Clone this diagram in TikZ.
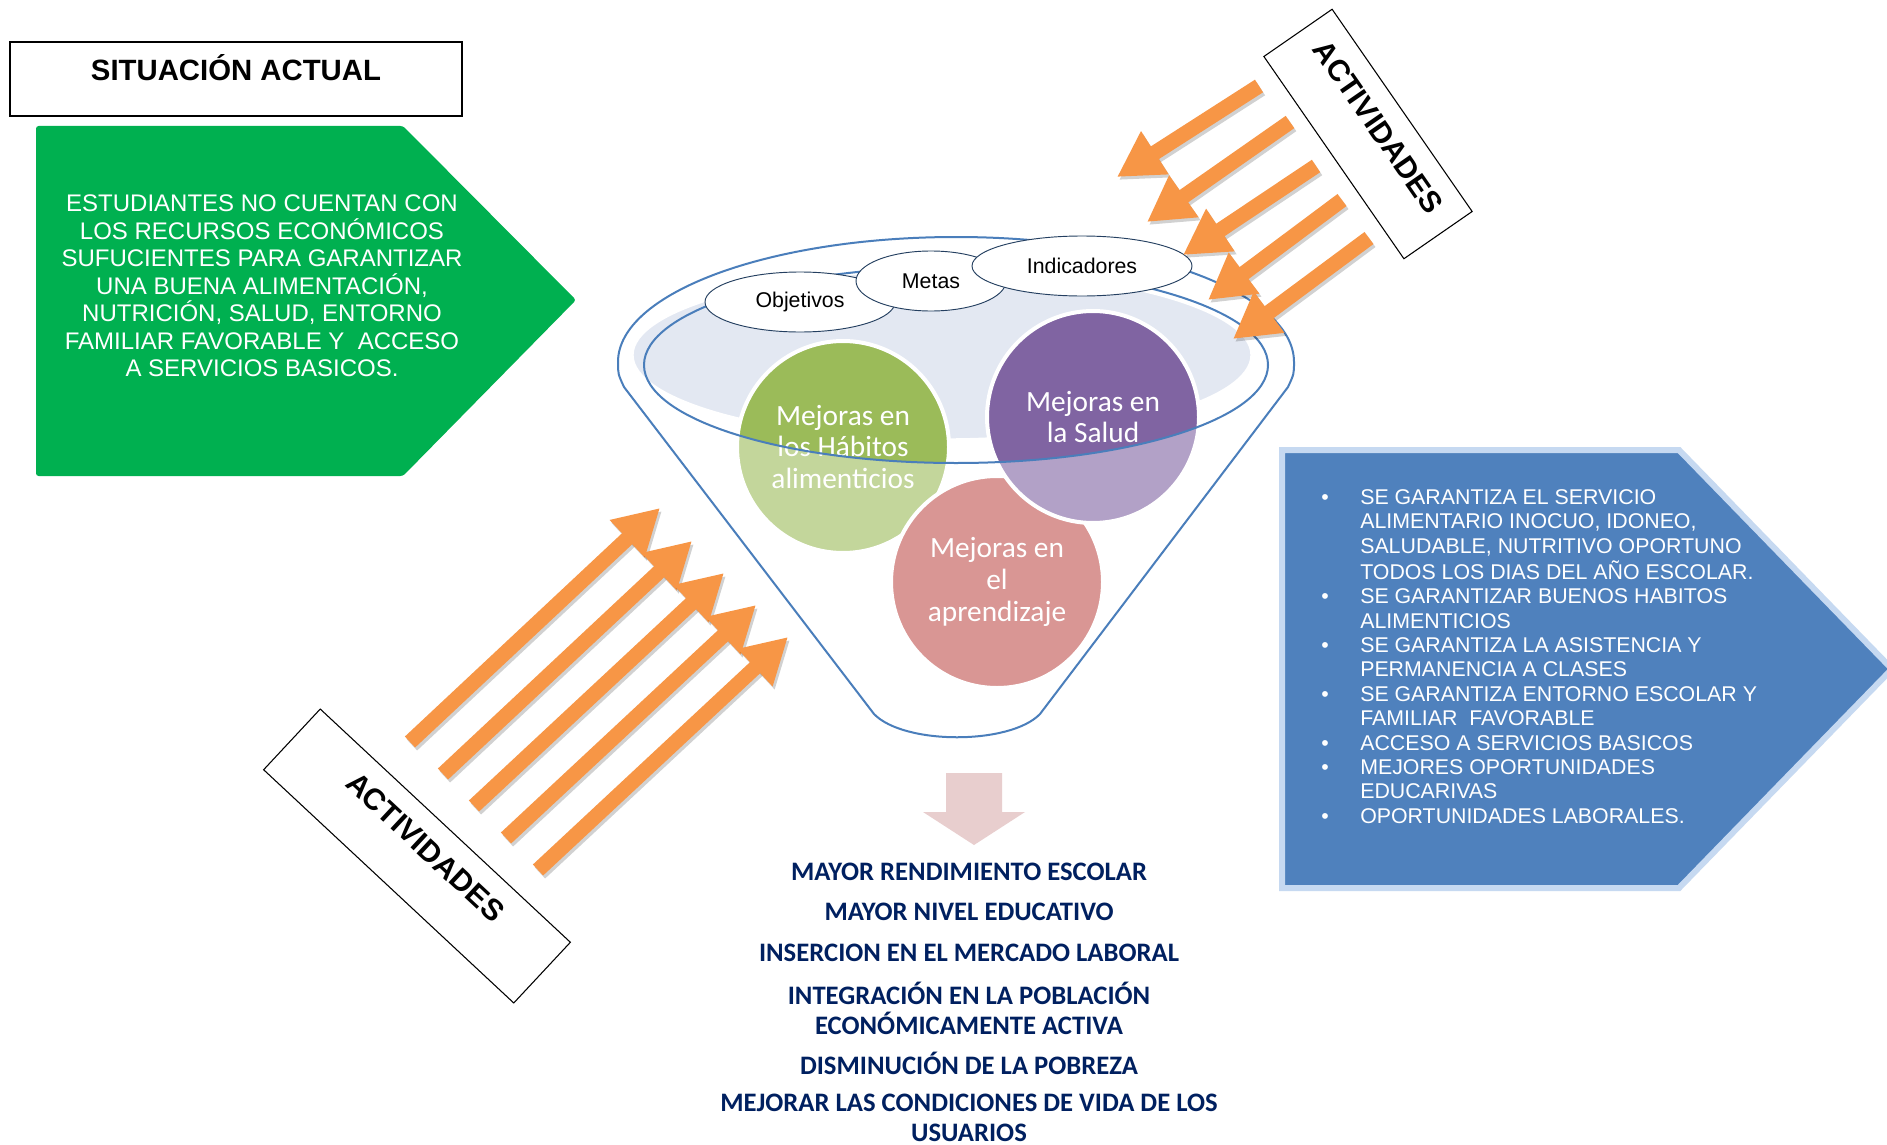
\documentclass[tikz,border=0pt]{standalone}
\usepackage{fontspec}
\setmainfont{Liberation Sans}
\newfontfamily\calibri{Carlito}
\usepackage{xcolor}
\usetikzlibrary{shapes.geometric,arrows.meta}

\definecolor{verdecaja}{HTML}{00B050}
\definecolor{azulcaja}{HTML}{4F81BD}
\definecolor{azulborde}{HTML}{C6D9F1}
\definecolor{naranja}{HTML}{F79646}
\definecolor{embudo}{HTML}{4A7EBB}
\definecolor{bocafondo}{HTML}{E3E8F2}
\definecolor{verdeosc}{HTML}{9BBB59}
\definecolor{verdeclaro}{HTML}{C3D69B}
\definecolor{moradoosc}{HTML}{8064A2}
\definecolor{moradoclaro}{HTML}{B2A1C7}
\definecolor{rosa}{HTML}{D99694}
\definecolor{rosaflecha}{HTML}{E8CECE}
\definecolor{marino}{HTML}{002060}
\definecolor{bordeovalo}{HTML}{243F60}

\tikzset{
  actividades/.style={draw, line width=0.8pt, fill=white, minimum height=62.25pt,
    inner sep=0pt, text height=29.6pt, text depth=32.6pt,
    font=\bfseries\fontsize{22.5}{27}\selectfont},
  bubble/.style={circle, minimum size=159pt, inner sep=0pt, draw=white, line width=3pt,
    text=white, align=center, font=\calibri\fontsize{22}{23.8}\selectfont},
  mitad/.style={path picture={\fill[#1] (boca) ellipse [x radius=312, y radius=98];}},
  ovalo/.style={ellipse, draw=bordeovalo, line width=0.7pt, fill=white, minimum height=45pt,
    inner sep=0pt, font=\fontsize{16}{19}\selectfont},
  impacto/.style={text=marino, align=center, font=\calibri\bfseries\fontsize{20}{22.5}\selectfont},
  flecha/.style={naranja, line width=11.25pt, -{Triangle[width=36pt,length=33.75pt]}},
  sombra/.style={black, opacity=.18, line width=11.25pt, -{Triangle[width=36pt,length=33.75pt]}}
}

\begin{document}
\begin{tikzpicture}[x=0.75pt, y=-0.75pt]
\path[use as bounding box, fill=white] (0,0) rectangle (1887,1145);

% situacion actual
\fill[verdecaja, rounded corners=2pt] (36,126) -- (403,126) -- (576,300) -- (403,476) -- (36,476) -- cycle;
\node[text=white, align=center, font=\fontsize{18}{20.6}\selectfont] (situacion) at (262,286)
  {ESTUDIANTES NO CUENTAN CON\\LOS RECURSOS ECONÓMICOS\\SUFUCIENTES PARA GARANTIZAR\\UNA BUENA ALIMENTACIÓN,\\NUTRICIÓN, SALUD, ENTORNO\\FAMILIAR FAVORABLE Y~ ACCESO\\A SERVICIOS BASICOS.};
\node[draw, line width=1pt, minimum width=339pt, minimum height=55.5pt, inner sep=0pt,
  text height=28.8pt, text depth=26.7pt, font=\bfseries\fontsize{22}{26}\selectfont] (titulo) at (236,79) {SITUACIÓN ACTUAL};

% embudo
\coordinate (boca) at (956,365);
\draw[embudo, line width=1.5pt] (618,362) arc[start angle=180, end angle=360, x radius=338, y radius=125]
  .. controls (1294,374) .. (1288,387) -- (1040,714) .. controls (1010,745) and (904,745) .. (874,714)
  -- (624,387) .. controls (618,374) .. (618,362) -- cycle;
\filldraw[fill=bocafondo, draw=white, line width=2.5pt] (942,355) ellipse [x radius=310, y radius=85];
\node[bubble, fill=verdeclaro, mitad=verdeosc] (habitos) at (843,447) {Mejoras en\\los Hábitos\\alimenticios};
\node[bubble, fill=rosa] (aprendizaje) at (997,582) {Mejoras en\\el\\aprendizaje};
\node[bubble, fill=moradoclaro, mitad=moradoosc] (salud) at (1093,417) {Mejoras en\\la Salud};
\draw[embudo, line width=1.5pt] (boca) ellipse [x radius=312, y radius=98];
\node[ovalo, minimum width=142.5pt] (objetivos) at (800,302) {Objetivos};
\node[ovalo, minimum width=112.5pt] (metas) at (931,281) {Metas};
\node[ovalo, minimum width=165pt] (indicadores) at (1082,266) {Indicadores};

% resultados
\draw[draw=azulborde, line width=4.5pt, fill=azulcaja] (1282,450) -- (1679,450) -- (1892,669) -- (1679,888) -- (1282,888) -- cycle;
\node[anchor=north west, inner sep=0pt, text=white, font=\fontsize{16}{18.3}\selectfont] (logros) at (1321,487)
  {\begin{tabular}{@{}p{29.25pt}@{}l@{}}
  • & SE GARANTIZA EL SERVICIO\\
    & ALIMENTARIO INOCUO, IDONEO,\\
    & SALUDABLE, NUTRITIVO OPORTUNO\\
    & TODOS LOS DIAS DEL AÑO ESCOLAR.\\
  • & SE GARANTIZAR BUENOS HABITOS\\
    & ALIMENTICIOS\\
  • & SE GARANTIZA LA ASISTENCIA Y\\
    & PERMANENCIA A CLASES\\
  • & SE GARANTIZA ENTORNO ESCOLAR Y\\
    & FAMILIAR~ FAVORABLE\\
  • & ACCESO A SERVICIOS BASICOS\\
  • & MEJORES OPORTUNIDADES\\
    & EDUCARIVAS\\
  • & OPORTUNIDADES LABORALES.
  \end{tabular}};

% impactos
\fill[rosaflecha] (946,773) -- (1002,773) -- (1002,812) -- (1025,812) -- (974,845) -- (923,812) -- (946,812) -- cycle;
\node[impacto] (rendimiento) at (969,872) {MAYOR RENDIMIENTO ESCOLAR};
\node[impacto] (nivel) at (969,912) {MAYOR NIVEL EDUCATIVO};
\node[impacto] (insercion) at (969,953) {INSERCION EN EL MERCADO LABORAL};
\node[impacto] (integracion) at (969,1008) {INTEGRACIÓN EN LA POBLACIÓN\\ECONÓMICAMENTE ACTIVA};
\node[impacto] (pobreza) at (969,1063) {DISMINUCIÓN DE LA POBREZA};
\node[impacto] (condiciones) at (969,1118) {MEJORAR LAS CONDICIONES DE VIDA DE LOS\\USUARIOS};

% actividades
\node[actividades, rotate=-55.3, minimum width=184.5pt] (actarriba) at (1368,134) {ACTIVIDADES};
\node[actividades, rotate=-43, minimum width=256.5pt] (actabajo) at (417,856) {ACTIVIDADES};

\foreach \i/\tx/\ty/\hx/\hy in {1/1259/86/1117/177, 2/1290/122/1147/222, 3/1316/166/1183/255,
    4/1342/200/1208/300, 5/1369/238/1233/339}{
  \coordinate (baja\i) at (\tx,\ty);
  \coordinate (bajafin\i) at (\hx,\hy);
  \draw[sombra] ([shift={(2,3)}]baja\i) -- ([shift={(2,3)}]bajafin\i);
  \draw[flecha] (baja\i) -- (bajafin\i);
}
\foreach \i/\tx/\ty/\hx/\hy in {1/410/742/660/508, 2/443/774/692/541, 3/474/806/724/573,
    4/506/838/756/605, 5/538/870/788/637}{
  \coordinate (sube\i) at (\tx,\ty);
  \coordinate (subefin\i) at (\hx,\hy);
  \draw[sombra] ([shift={(2,3)}]sube\i) -- ([shift={(2,3)}]subefin\i);
  \draw[flecha] (sube\i) -- (subefin\i);
}
\end{tikzpicture}
\end{document}
